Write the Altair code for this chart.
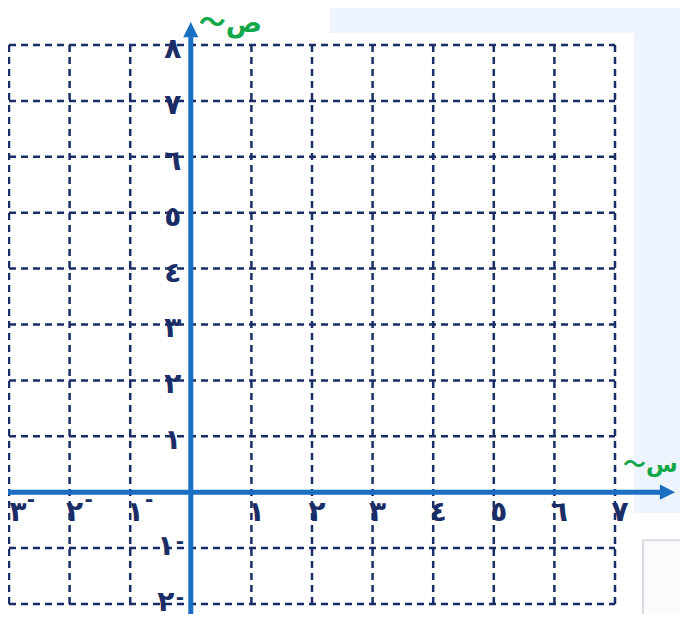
import altair as alt
import pandas as pd

# ---- data ----
x_grid = [-3, -2, -1, 0, 1, 2, 3, 4, 5, 6, 7]
y_grid = [-2, -1, 0, 1, 2, 3, 4, 5, 6, 7, 8]
x_label_vals = [-3, -2, -1, 1, 2, 3, 4, 5, 6, 7]
y_label_vals = [-2, -1, 1, 2, 3, 4, 5, 6, 7, 8]
digits = "٠١٢٣٤٥٦٧٨٩"
y_title = "〜ص"
x_title = "〜س"

X_DOMAIN = [-3.0165, 8.0726]
Y_DOMAIN = [-2.179, 8.662]
X_ARROW_TIP = 7.99
Y_ARROW_TIP = 8.41

W, H = 672, 606
NAVY = "#1b2d66"
BLUE = "#1a6fc2"
GREEN = "#12a84a"
LIGHT = "#edf4fd"

xs = alt.Scale(domain=X_DOMAIN, nice=False, zero=False)
ys = alt.Scale(domain=Y_DOMAIN, nice=False, zero=False)

def X(f="x"):
    return alt.X(f"{f}:Q", scale=xs, axis=None)

def Y(f="y"):
    return alt.Y(f"{f}:Q", scale=ys, axis=None)

# background light-blue regions
bg = pd.DataFrame({
    "x": [2.297, 7.314],
    "x2": [X_DOMAIN[1], X_DOMAIN[1]],
    "y": [8.215, -0.376],
    "y2": [Y_DOMAIN[1], Y_DOMAIN[1]],
})
bg_layer = alt.Chart(bg).mark_rect(color=LIGHT).encode(
    x=X("x"), x2="x2", y=Y("y"), y2="y2")

box = pd.DataFrame({"x": [7.46], "x2": [8.3], "y": [-0.86], "y2": [-2.3]})
box_layer = alt.Chart(box).mark_rect(fill="#fbfbfd", stroke="#d8dadf", strokeWidth=2).encode(
    x=X("x"), x2="x2", y=Y("y"), y2="y2")

# grid
vgrid = pd.DataFrame({"x": x_grid, "y": [y_grid[0]] * len(x_grid), "y2": [y_grid[-1]] * len(x_grid)})
hgrid = pd.DataFrame({"y": y_grid, "x": [x_grid[0]] * len(y_grid), "x2": [x_grid[-1]] * len(y_grid)})
dash = [7, 5]
vg = alt.Chart(vgrid).mark_rule(color=NAVY, strokeWidth=2.5, strokeDash=dash).encode(
    x=X("x"), y=Y("y"), y2="y2")
hg = alt.Chart(hgrid).mark_rule(color=NAVY, strokeWidth=2.5, strokeDash=dash).encode(
    y=Y("y"), x=X("x"), x2="x2")

# axes
xaxis = alt.Chart(pd.DataFrame({"x": [X_DOMAIN[0]], "x2": [X_ARROW_TIP - 0.15], "y": [0]})).mark_rule(
    color=BLUE, strokeWidth=5).encode(x=X("x"), x2="x2", y=Y("y"))
yaxis = alt.Chart(pd.DataFrame({"y": [Y_DOMAIN[0]], "y2": [Y_ARROW_TIP - 0.15], "x": [0]})).mark_rule(
    color=BLUE, strokeWidth=5).encode(y=Y("y"), y2="y2", x=X("x"))
xarrow = alt.Chart(pd.DataFrame({"x": [X_ARROW_TIP - 0.124], "y": [0]})).mark_point(
    shape="M-1,-1L1,0L-1,1Z", filled=True, opacity=1, color=BLUE, size=230, strokeWidth=0).encode(
    x=X("x"), y=Y("y"))
yarrow = alt.Chart(pd.DataFrame({"x": [0], "y": [Y_ARROW_TIP - 0.134]})).mark_point(
    shape="M-1,1L0,-1L1,1Z", filled=True, opacity=1, color=BLUE, size=230, strokeWidth=0).encode(
    x=X("x"), y=Y("y"))

# labels
FONT = "DejaVu Sans"
FS = 28
xl = pd.DataFrame({"x": x_label_vals, "y": [0] * len(x_label_vals),
                   "t": [digits[abs(v)] for v in x_label_vals]})
edge = xl[xl.x == min(x_label_vals)]
inner = xl[xl.x != min(x_label_vals)]
xlab = alt.Chart(inner).mark_text(font=FONT, fontSize=FS, fontWeight="bold", color=NAVY,
                                  dx=5, dy=21, baseline="middle", align="center").encode(
    x=X("x"), y=Y("y"), text="t:N")
xlab_edge = alt.Chart(edge).mark_text(font=FONT, fontSize=FS, fontWeight="bold", color=NAVY,
                                      dx=9, dy=21, baseline="middle", align="center").encode(
    x=X("x"), y=Y("y"), text="t:N")
xneg = alt.Chart(inner[inner.x < 0]).mark_text(font=FONT, fontSize=20, fontWeight="bold", color=NAVY,
                                               dx=19, dy=8, baseline="middle", align="center").encode(
    x=X("x"), y=Y("y"), text=alt.value("-"))
xneg_edge = alt.Chart(edge).mark_text(font=FONT, fontSize=20, fontWeight="bold", color=NAVY,
                                      dx=22, dy=8, baseline="middle", align="center").encode(
    x=X("x"), y=Y("y"), text=alt.value("-"))

yl = pd.DataFrame({"y": y_label_vals, "x": [0] * len(y_label_vals),
                   "t": [digits[abs(v)] for v in y_label_vals]})
ylab_pos = alt.Chart(yl[yl.y > 0]).mark_text(font=FONT, fontSize=FS, fontWeight="bold", color=NAVY,
                                             dx=-18, dy=5, baseline="middle", align="center").encode(
    x=X("x"), y=Y("y"), text="t:N")
ylab_neg = alt.Chart(yl[yl.y < 0]).mark_text(font=FONT, fontSize=FS, fontWeight="bold", color=NAVY,
                                             dx=-25, dy=-1, baseline="middle", align="center").encode(
    x=X("x"), y=Y("y"), text="t:N")
yneg_minus = alt.Chart(yl[yl.y < 0]).mark_text(font=FONT, fontSize=20, fontWeight="bold", color=NAVY,
                                               dx=-11, dy=-6, baseline="middle", align="center").encode(
    x=X("x"), y=Y("y"), text=alt.value("-"))

# axis titles (wavy tail + letter in one string)
TFONT = "DejaVu Sans, Noto Sans CJK JP"
tdf = pd.DataFrame({"x": [0, X_ARROW_TIP], "y": [Y_ARROW_TIP, 0], "t": [y_title, x_title]})
t_y = alt.Chart(tdf.iloc[[0]]).mark_text(font=TFONT, fontSize=27, fontWeight="bold", color=GREEN,
                                         dx=8, dy=2, baseline="middle", align="left").encode(
    x=X("x"), y=Y("y"), text="t:N")
t_x = alt.Chart(tdf.iloc[[1]]).mark_text(font=TFONT, fontSize=23, fontWeight="bold", color=GREEN,
                                         dx=-52, dy=-27, baseline="middle", align="left").encode(
    x=X("x"), y=Y("y"), text="t:N")

chart = alt.layer(bg_layer, box_layer, vg, hg, xaxis, yaxis, xarrow, yarrow,
                  xlab, xlab_edge, xneg, xneg_edge, ylab_pos, ylab_neg, yneg_minus, t_y, t_x).properties(
    width=W, height=H, padding=0, autosize=alt.AutoSizeParams(type="none"),
    background="white").configure_view(strokeWidth=0)

chart.save("out.html", embed_options={"renderer": "svg", "actions": False})
